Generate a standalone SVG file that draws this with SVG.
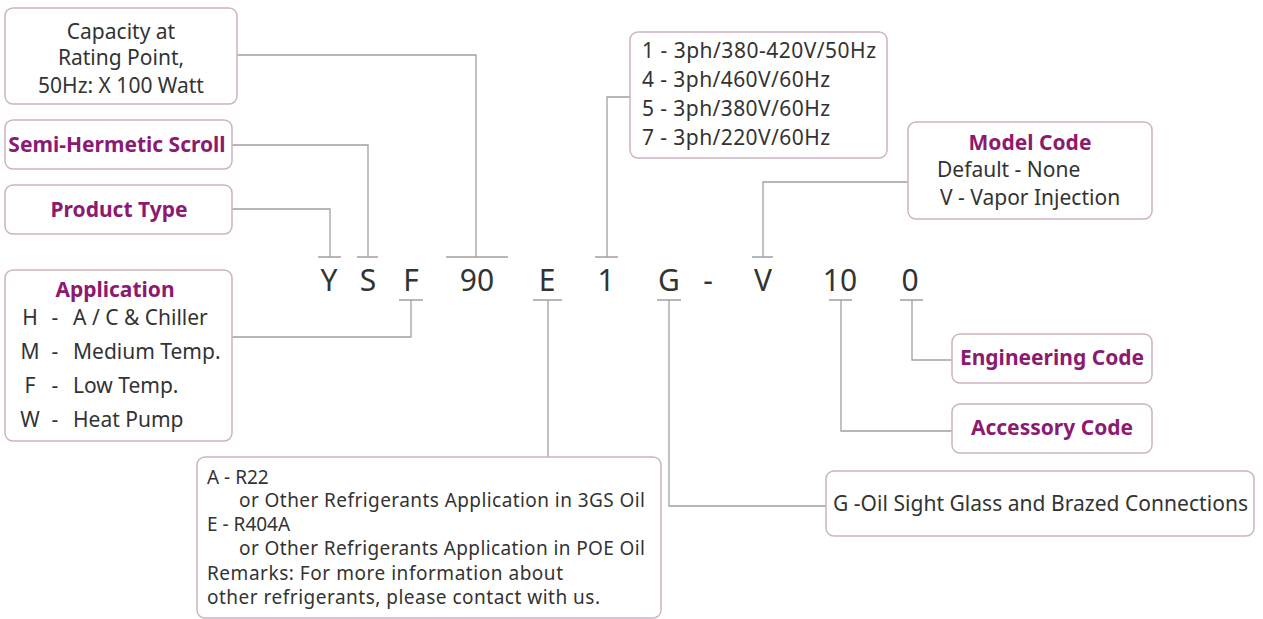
<svg xmlns="http://www.w3.org/2000/svg" width="1263" height="619" viewBox="0 0 1263 619">
<style>
.box{fill:#fff;stroke:#cdb3c2;stroke-width:1.5}
.ln{fill:none;stroke:#a0a0a0;stroke-width:1.3}
.t{font-family:"Noto Sans",sans-serif;font-size:21px;fill:#333}
.s{font-size:19px}
.h{font-family:"Noto Sans",sans-serif;font-size:21px;font-weight:bold;fill:#8c1a70}
.c{font-family:"Noto Sans",sans-serif;font-size:30px;fill:#333;text-anchor:middle}
.m{text-anchor:middle}
</style>
<rect width="1263" height="619" fill="#fff"/>
<g id="connectors">
<path class="ln" d="M237 55H476V257M446 257H508"/>
<path class="ln" d="M232 145H368V257M357 257H378"/>
<path class="ln" d="M232 209H330V257M318 257H341"/>
<path class="ln" d="M232 337H411V300M399 300H423"/>
<path class="ln" d="M630 97H607V257M595 257H618"/>
<path class="ln" d="M908 182H763V257M752 257H773"/>
<path class="ln" d="M548 457V300M533 300H562"/>
<path class="ln" d="M826 506H669V300M657 300H681"/>
<path class="ln" d="M952 431H841V300M829 300H852"/>
<path class="ln" d="M952 360H912V300M900 300H923"/>
</g>
<g id="code">
<text class="c" x="329" y="291">Y</text>
<text class="c" x="368" y="291">S</text>
<text class="c" x="411" y="291">F</text>
<text class="c" x="477" y="291">90</text>
<text class="c" x="547" y="291">E</text>
<text class="c" x="606" y="291">1</text>
<text class="c" x="669" y="291">G</text>
<text class="c" x="708" y="291">-</text>
<text class="c" x="763" y="291">V</text>
<text class="c" x="840" y="291">10</text>
<text class="c" x="910" y="291">0</text>
</g>
<g id="capacity">
<rect class="box" x="5" y="8" width="232" height="96" rx="8"/>
<text class="t m" x="121" y="39">Capacity at</text>
<text class="t m" x="121" y="65">Rating Point,</text>
<text class="t m" x="121" y="93">50Hz: X 100 Watt</text>
</g>
<g id="scroll">
<rect class="box" x="5" y="120" width="227" height="49" rx="8"/>
<text class="h m" x="117" y="152">Semi-Hermetic Scroll</text>
</g>
<g id="product">
<rect class="box" x="5" y="185" width="227" height="49" rx="8"/>
<text class="h m" x="119" y="217">Product Type</text>
</g>
<g id="application">
<rect class="box" x="5" y="270" width="227" height="171" rx="8"/>
<text class="h m" x="115" y="297">Application</text>
<text class="t m" x="30" y="325">H</text><text class="t m" x="55" y="325">-</text><text class="t" x="73" y="325">A / C &amp; Chiller</text>
<text class="t m" x="30" y="359">M</text><text class="t m" x="55" y="359">-</text><text class="t" x="73" y="359">Medium Temp.</text>
<text class="t m" x="30" y="393">F</text><text class="t m" x="55" y="393">-</text><text class="t" x="73" y="393">Low Temp.</text>
<text class="t m" x="30" y="427">W</text><text class="t m" x="55" y="427">-</text><text class="t" x="73" y="427">Heat Pump</text>
</g>
<g id="power">
<rect class="box" x="630" y="32" width="257" height="126" rx="8"/>
<text class="t" x="642" y="58" textLength="234">1 - 3ph/380-420V/50Hz</text>
<text class="t" x="642" y="87" textLength="188">4 - 3ph/460V/60Hz</text>
<text class="t" x="642" y="116" textLength="188">5 - 3ph/380V/60Hz</text>
<text class="t" x="642" y="145" textLength="188">7 - 3ph/220V/60Hz</text>
</g>
<g id="model">
<rect class="box" x="908" y="122" width="244" height="97" rx="8"/>
<text class="h m" x="1030" y="150">Model Code</text>
<text class="t" x="937" y="177">Default - None</text>
<text class="t" x="940" y="205">V - Vapor Injection</text>
</g>
<g id="engineering">
<rect class="box" x="952" y="334" width="200" height="49" rx="8"/>
<text class="h m" x="1052" y="365">Engineering Code</text>
</g>
<g id="accessory">
<rect class="box" x="952" y="404" width="200" height="49" rx="8"/>
<text class="h m" x="1052" y="435">Accessory Code</text>
</g>
<g id="refrigerant">
<rect class="box" x="197" y="457" width="464" height="161" rx="8"/>
<text class="t s" x="207" y="484">A - R22</text>
<text class="t s" x="239" y="507" textLength="406">or Other Refrigerants Application in 3GS Oil</text>
<text class="t s" x="207" y="531">E - R404A</text>
<text class="t s" x="239" y="555" textLength="406">or Other Refrigerants Application in POE Oil</text>
<text class="t s" x="207" y="580" textLength="356">Remarks: For more information about</text>
<text class="t s" x="207" y="604" textLength="393">other refrigerants, please contact with us.</text>
</g>
<g id="accessory-g">
<rect class="box" x="826" y="471" width="428" height="65" rx="8"/>
<text class="t" x="833" y="511" textLength="415">G -Oil Sight Glass and Brazed Connections</text>
</g>
</svg>
